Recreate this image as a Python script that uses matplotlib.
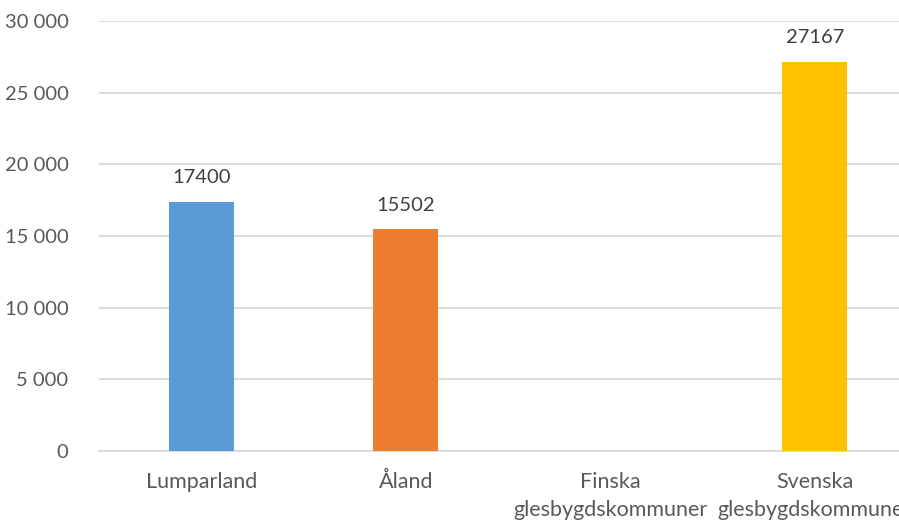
import numpy as np
import matplotlib.pyplot as plt

# data
categories = ["Lumparland", "Åland", "Finska\nglesbygdskommuner", "Svenska\nglesbygdskommuner"]
values = [17400, 15502, np.nan, 27167]
colors = ["#5B9BD5", "#ED7D31", "#A5A5A5", "#FFC000"]
yticks = [0, 5000, 10000, 15000, 20000, 25000, 30000]

plt.rcParams['font.family'] = ['Lato', 'DejaVu Sans']

fig = plt.figure(figsize=(8.99, 5.22), dpi=100)
ax = fig.add_axes([99 / 899, 71 / 522, 818 / 899, 430 / 522])

x = np.arange(len(categories))
bars = ax.bar(x, values, width=0.318, color=colors, zorder=3)

# value labels above the bars
for xi, v in zip(x, values):
    if not np.isnan(v):
        ax.annotate(str(int(v)), (xi, v), xytext=(0, 11), textcoords="offset points",
                    ha="center", va="bottom", fontsize=14.5, color="#404040")

ax.set_xlim(-0.5, 3.5)
ax.set_ylim(0, 30000)
ax.set_yticks(yticks)
ax.set_yticklabels([f"{t:,}".replace(",", " ") for t in yticks])
ax.set_xticks(x)
ax.set_xticklabels(categories, linespacing=1.5)

ax.tick_params(axis="y", length=0, pad=22, labelsize=14.5, labelcolor="#595959")
ax.tick_params(axis="x", length=0, pad=15, labelsize=15.5, labelcolor="#595959")

ax.grid(axis="y", color="#D9D9D9", linewidth=1.3, zorder=0)
for s in ["top", "right", "left"]:
    ax.spines[s].set_visible(False)
ax.spines["bottom"].set_color("#D9D9D9")
ax.spines["bottom"].set_linewidth(1.3)

fig.savefig("out.png", dpi=100)
